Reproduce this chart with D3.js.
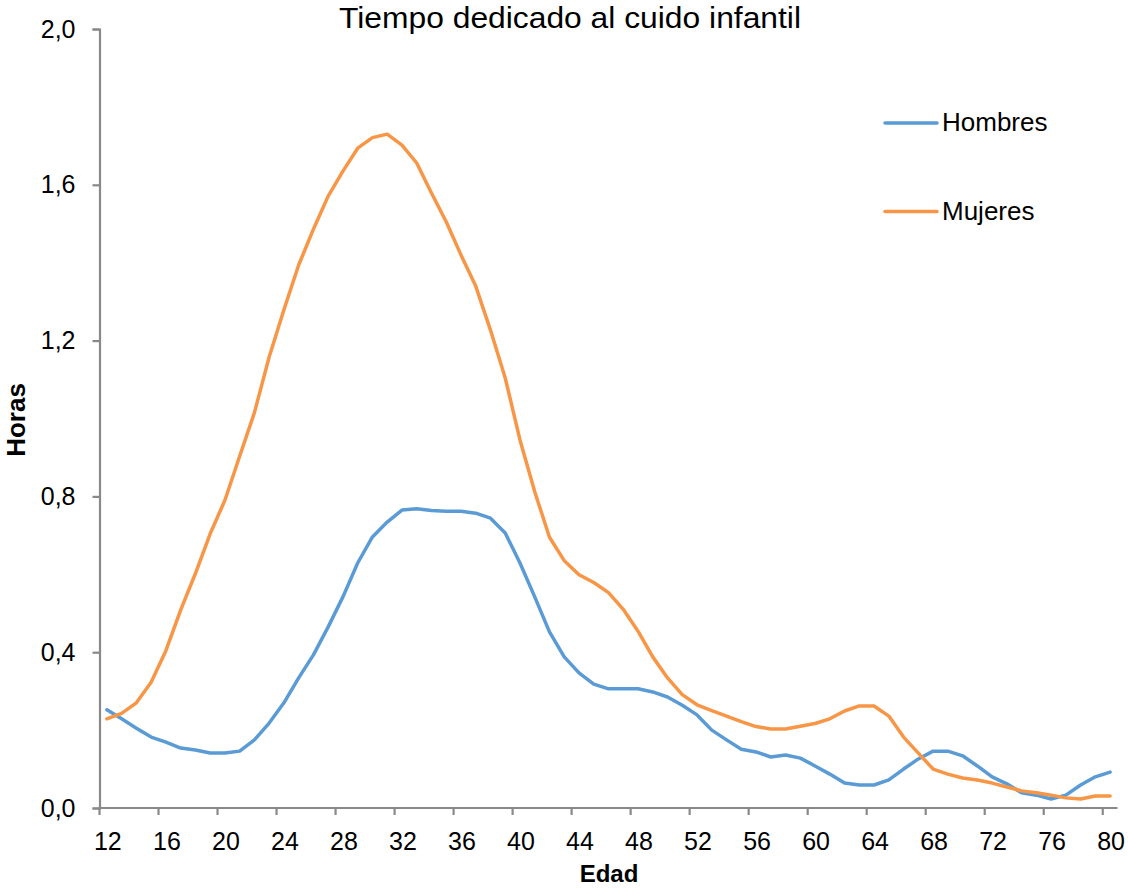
<!DOCTYPE html>
<html><head><meta charset="utf-8">
<script src="https://cdn.jsdelivr.net/npm/d3@7"></script>
<style>body{margin:0;background:#fff}svg{display:block;font-family:"Liberation Sans",Arial,sans-serif}</style>
</head><body><svg id="c" width="1128" height="889"></svg>
<script>
const ages = d3.range(12, 81);
const hombres = [0.252,0.229,0.205,0.182,0.169,0.154,0.149,0.141,0.141,0.146,0.175,0.218,0.270,0.334,0.393,0.465,0.542,0.629,0.696,0.734,0.765,0.768,0.764,0.762,0.762,0.757,0.744,0.706,0.629,0.542,0.452,0.388,0.347,0.318,0.306,0.306,0.306,0.298,0.285,0.264,0.239,0.200,0.175,0.151,0.144,0.131,0.136,0.128,0.108,0.087,0.064,0.059,0.059,0.072,0.100,0.126,0.146,0.146,0.134,0.108,0.080,0.062,0.039,0.033,0.023,0.033,0.059,0.080,0.092];
const mujeres = [0.229,0.243,0.270,0.323,0.404,0.508,0.602,0.704,0.790,0.903,1.015,1.158,1.279,1.394,1.486,1.571,1.635,1.694,1.721,1.730,1.702,1.656,1.579,1.505,1.420,1.340,1.227,1.104,0.945,0.812,0.695,0.635,0.599,0.579,0.553,0.510,0.454,0.388,0.334,0.291,0.265,0.250,0.236,0.222,0.209,0.203,0.203,0.210,0.217,0.229,0.249,0.262,0.262,0.236,0.182,0.141,0.100,0.087,0.077,0.072,0.064,0.054,0.044,0.039,0.033,0.026,0.023,0.031,0.031];
const yTicks = [0, 0.4, 0.8, 1.2, 1.6, 2.0];
const xTickAges = d3.range(12, 81, 4);
const seriesNames = ["Hombres", "Mujeres"];
const colors = ["#5B9BD5", "#F79646"];

const svg = d3.select("#c");
const x = d3.scaleBand().domain(ages).range([99.5, 1117.5]).paddingInner(0).paddingOuter(0);
const y = d3.scaleLinear().domain([0, 2]).range([808, 29]);
const axisColor = "#898989";

// Y axis
const yAxis = svg.append("g").attr("transform", "translate(99.5,0)")
  .call(d3.axisLeft(y).tickValues(yTicks).tickSize(7).tickPadding(17)
    .tickFormat(d => d3.format(".1f")(d).replace(".", ",")));
yAxis.select(".domain").attr("stroke", axisColor).attr("stroke-width", 2.2);
yAxis.selectAll(".tick line").attr("stroke", axisColor).attr("stroke-width", 2.2);
yAxis.selectAll(".tick text").attr("font-size", 25).attr("fill", "#000").attr("font-family", "Liberation Sans, Arial, sans-serif");

// X axis
const xg = svg.append("g").attr("transform", "translate(0,808)");
xg.append("line").attr("x1", x.range()[0] - 1).attr("x2", x.range()[1]).attr("stroke", axisColor).attr("stroke-width", 2.2);
xg.selectAll("line.t").data(xTickAges).join("line").attr("class", "t")
  .attr("x1", d => x(d)).attr("x2", d => x(d)).attr("y1", 0).attr("y2", 7)
  .attr("stroke", axisColor).attr("stroke-width", 2.2);
xg.selectAll("text").data(xTickAges).join("text")
  .attr("x", d => x(d) + x.bandwidth() / 2 + 1).attr("y", 42)
  .attr("text-anchor", "middle").attr("font-size", 25).attr("fill", "#000").text(d => d);

// Lines
const line = d3.line().x((d, i) => x(ages[i]) + x.bandwidth() / 2).y(d => y(d));
[hombres, mujeres].forEach((s, k) => {
  svg.append("path").datum(s).attr("d", line).attr("fill", "none")
    .attr("stroke", colors[k]).attr("stroke-width", 3.5).attr("stroke-linejoin", "round").attr("stroke-linecap", "round");
});

// Legend
const legY = [123, 211.5];
seriesNames.forEach((n, k) => {
  svg.append("line").attr("x1", 885).attr("x2", 937).attr("y1", legY[k]).attr("y2", legY[k])
    .attr("stroke", colors[k]).attr("stroke-width", 3.5).attr("stroke-linecap", "round");
  svg.append("text").attr("x", 942).attr("y", legY[k] + 8).attr("font-size", 26).attr("fill", "#000").text(n);
});

// Titles
svg.append("text").attr("x", 339).attr("y", 28).attr("font-size", 29)
  .attr("textLength", 462).attr("lengthAdjust", "spacingAndGlyphs")
  .attr("fill", "#000").text("Tiempo dedicado al cuido infantil");
svg.append("text").attr("x", 609).attr("y", 882).attr("text-anchor", "middle").attr("font-size", 24).attr("font-weight", "bold").attr("fill", "#000").text("Edad");
svg.append("text").attr("transform", "translate(25,420) rotate(-90)").attr("text-anchor", "middle").attr("font-size", 26).attr("font-weight", "bold").attr("fill", "#000").text("Horas");
</script></body></html>
